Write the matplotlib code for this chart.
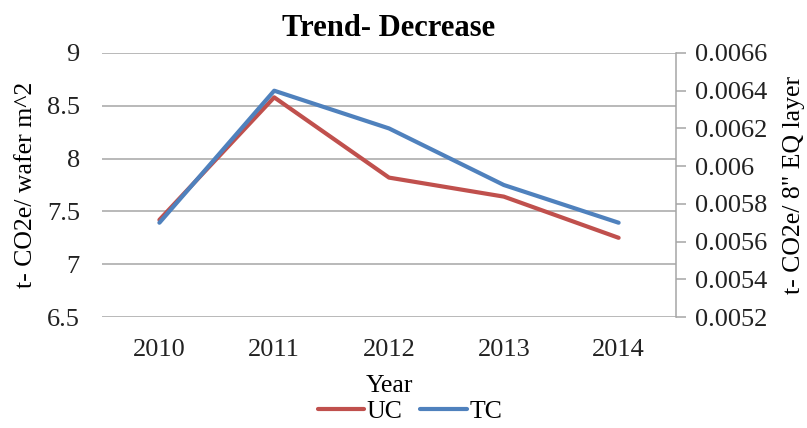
"""
Trend chart: UC on the left axis, TC on the right axis.
"""

import matplotlib

matplotlib.use("Agg")

import matplotlib.pyplot as plt
import numpy as np

# Data
years = ["2010", "2011", "2012", "2013", "2014"]
uc_values = [7.42, 8.58, 7.82, 7.64, 7.25]
tc_values = [0.0057, 0.0064, 0.0062, 0.0059, 0.0057]

left_ticks = [6.5, 7, 7.5, 8, 8.5, 9]
left_tick_labels = ["6.5", "7", "7.5", "8", "8.5", "9"]
right_ticks = [0.0052, 0.0054, 0.0056, 0.0058, 0.006, 0.0062, 0.0064, 0.0066]
right_tick_labels = [
    "0.0052", "0.0054", "0.0056", "0.0058",
    "0.006", "0.0062", "0.0064", "0.0066",
]

UC_COLOR = "#C0504D"
TC_COLOR = "#4F81BD"
GRID_COLOR = "#A6A6A6"


def main() -> None:
    plt.rcParams["font.family"] = ["Liberation Serif", "DejaVu Serif"]

    fig = plt.figure(figsize=(8.07, 4.28), dpi=100)
    ax = fig.add_axes([0.1264, 0.2593, 0.7113, 0.6169])

    x = np.arange(len(years))

    # Left axis (UC)
    (uc_line,) = ax.plot(
        x,
        uc_values,
        color=UC_COLOR,
        linewidth=3,
        solid_capstyle="round",
        label="UC",
        zorder=3,
    )
    ax.set_xlim(-0.5, len(years) - 0.5)
    ax.set_ylim(6.5, 9)
    ax.set_yticks(left_ticks)
    ax.set_yticklabels(left_tick_labels)
    ax.set_xticks(x)
    ax.set_xticklabels(years)
    ax.yaxis.grid(True, color=GRID_COLOR, linewidth=1.1)
    ax.set_axisbelow(True)
    ax.tick_params(axis="y", length=0, pad=16, labelsize=19, colors="#222222")
    ax.tick_params(axis="x", length=0, pad=16, labelsize=19, colors="#222222")
    for side in ["top", "left", "right", "bottom"]:
        ax.spines[side].set_visible(False)

    ax.set_ylabel("t- CO2e/ wafer m^2", fontsize=18.5, labelpad=7)
    ax.set_xlabel("Year", fontsize=18.5, labelpad=10)
    ax.set_title("Trend- Decrease", fontsize=22, fontweight="bold", pad=12)

    # Right axis (TC)
    ax2 = ax.twinx()
    (tc_line,) = ax2.plot(
        x,
        tc_values,
        color=TC_COLOR,
        linewidth=3,
        solid_capstyle="round",
        label="TC",
        zorder=4,
    )
    ax2.set_ylim(0.0052, 0.0066)
    ax2.set_yticks(right_ticks)
    ax2.set_yticklabels(right_tick_labels)
    ax2.tick_params(
        axis="y",
        direction="out",
        length=7,
        width=1.1,
        color=GRID_COLOR,
        pad=7,
        labelsize=19,
        labelcolor="#222222",
    )
    for side in ["top", "left", "bottom"]:
        ax2.spines[side].set_visible(False)
    ax2.spines["right"].set_color(GRID_COLOR)
    ax2.spines["right"].set_linewidth(1.1)
    ax2.set_ylabel('t- CO2e/ 8" EQ layer', fontsize=18.5, labelpad=11)

    fig.legend(
        handles=[uc_line, tc_line],
        loc="center",
        bbox_to_anchor=(0.508, 0.038),
        ncol=2,
        frameon=False,
        fontsize=18.5,
        handlelength=1.8,
        handletextpad=0.1,
        columnspacing=0.7,
    )

    fig.savefig("out.png", dpi=100)


if __name__ == "__main__":
    main()
